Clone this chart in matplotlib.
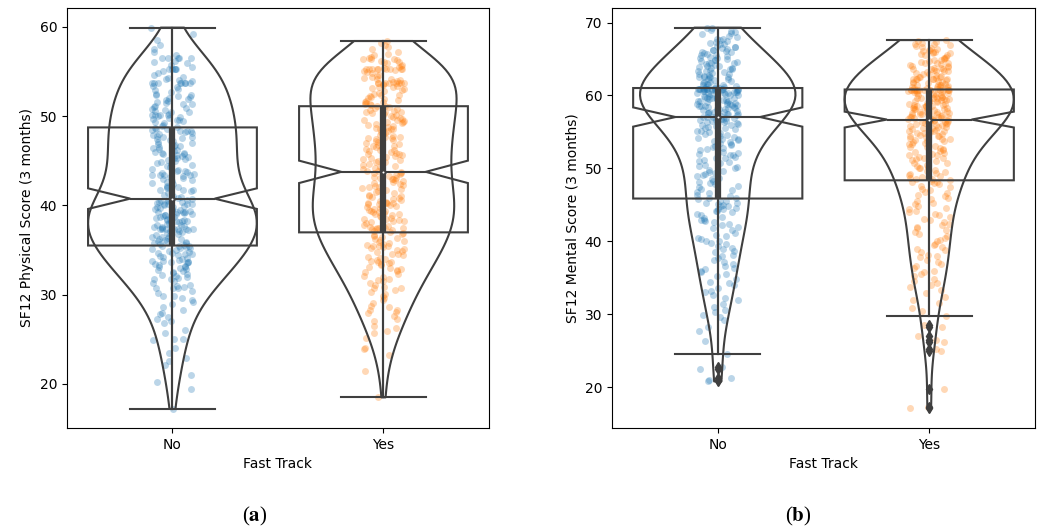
import matplotlib
matplotlib.use("Agg")
import matplotlib.pyplot as plt
import numpy as np
from matplotlib import mlab

# SF12 scores at 3 months
phys_no = [
    17.2, 19.4, 20.2, 21.0, 22.1, 22.6, 22.9, 23.5,
    24.0, 24.9, 25.0, 25.0, 25.7, 26.0, 26.8, 27.0, 27.3, 27.5, 27.8,
    28.0, 28.3, 28.6, 28.9, 29.2, 29.4, 29.6, 29.8, 29.9,
    30.2, 30.4, 30.7, 30.7, 30.7, 30.9, 31.0, 31.1, 31.3, 31.5, 31.7, 31.8, 31.9, 32.0,
    32.1, 32.2, 32.3, 32.4, 32.5, 32.6, 32.8, 32.9, 33.0, 33.1, 33.1, 33.2, 33.3, 33.4,
    33.5, 33.6, 33.6, 33.7, 33.8, 33.8, 33.9, 34.0,
    34.1, 34.2, 34.3, 34.4, 34.5, 34.6, 34.7, 34.7, 34.8, 34.9, 35.0, 35.1, 35.2, 35.2,
    35.3, 35.4, 35.5, 35.5, 35.6, 35.7, 35.8, 35.8, 35.9, 36.0, 36.0,
    36.1, 36.2, 36.2, 36.3, 36.4, 36.5, 36.6, 36.7, 36.8, 36.9, 37.0, 37.1, 37.1, 37.2,
    37.3, 37.4, 37.4, 37.4, 37.4, 37.4, 37.4, 37.5, 37.6, 37.6, 37.7, 37.8, 37.8, 37.9, 38.0,
    38.1, 38.1, 38.2, 38.3, 38.3, 38.4, 38.5, 38.5, 38.6, 38.7, 38.8, 38.9, 38.9, 39.0,
    39.0, 39.1, 39.2, 39.2, 39.3, 39.4, 39.5, 39.5, 39.6, 39.6, 39.7, 39.8, 39.8, 39.9,
    40.0, 38.4, 38.7, 39.3,
    40.1, 40.1, 40.2, 40.2, 40.3, 40.4, 40.4, 40.5, 40.5, 40.6, 40.6, 40.7, 40.8, 40.9,
    41.0, 41.2, 41.4, 41.6, 41.7, 41.7, 41.7, 41.9, 42.0,
    42.1, 42.2, 42.4, 42.5, 42.7, 42.8, 43.0, 43.1, 43.2, 43.4, 43.4, 43.4, 43.4, 43.5,
    43.6, 43.7, 43.8, 43.9, 44.0, 42.6, 43.3,
    44.1, 44.3, 44.4, 44.6, 44.7, 44.9, 45.0, 45.1, 45.2, 45.3, 45.4, 45.5, 45.6, 45.7,
    45.8, 45.9, 46.0, 44.5, 45.3, 45.9,
    46.1, 46.2, 46.4, 46.5, 46.6, 46.8, 46.9, 47.0, 47.1, 47.2, 47.4, 47.5, 47.6, 47.8,
    47.9, 48.0, 46.3, 46.7, 47.3, 47.7,
    48.1, 48.2, 48.3, 48.3, 48.3, 48.4, 48.5, 48.6, 48.7, 48.8, 48.9, 49.0, 49.2, 49.3,
    49.4, 49.5, 49.6, 49.7, 49.8, 49.9, 50.0,
    50.1, 50.1, 50.1, 50.1, 50.2, 50.4, 50.5, 50.7, 50.8, 50.9, 51.0, 51.1, 51.3, 51.4,
    51.5, 51.6, 51.7, 51.8, 51.9, 52.0, 50.6,
    52.1, 52.2, 52.4, 52.5, 52.7, 52.9, 53.0, 53.2, 53.4, 53.7, 53.7, 53.7, 53.7, 53.7,
    53.7, 53.7, 53.7, 53.9, 54.0, 52.3,
    54.2, 54.4, 54.6, 54.8, 55.0, 55.3, 55.3, 55.3, 55.3, 55.3, 55.5, 55.7, 55.9, 56.0, 54.3,
    56.2, 56.5, 56.5, 56.5, 56.5, 56.5, 56.8, 57.2, 57.5, 58.0,
    58.5, 59.2, 59.9,
]

phys_yes = [
    18.5, 21.5, 23.2, 23.9, 24.0, 25.2, 25.7, 25.9,
    26.3, 26.5, 27.0, 27.3, 27.6, 27.9,
    28.1, 28.3, 28.3, 28.6, 28.7, 29.1, 29.4, 29.6, 29.9,
    30.1, 30.3, 30.5, 30.7, 30.7, 30.9, 31.1, 31.3, 31.5, 31.6, 31.8, 32.0,
    32.1, 32.3, 32.5, 32.6, 32.8, 32.9, 33.0, 33.1, 33.3, 33.4, 33.5, 33.6, 33.7, 33.8,
    33.9, 34.0,
    34.1, 34.2, 34.4, 34.5, 34.6, 34.8, 34.9, 35.0, 35.1, 35.2, 35.3, 35.4, 35.5, 35.5,
    35.6, 35.7, 35.8, 35.9, 36.0,
    36.1, 36.2, 36.3, 36.5, 36.6, 36.7, 36.8, 36.9, 37.0, 37.1, 37.2, 37.3, 37.4, 37.5,
    37.5, 37.5, 37.5, 37.6, 37.7, 37.8, 38.0,
    38.1, 38.2, 38.3, 38.4, 38.5, 38.6, 38.7, 38.8, 38.9, 39.0, 39.1, 39.2, 39.3, 39.4,
    39.5, 39.6, 39.7, 39.8, 39.9, 40.0, 38.5, 39.0, 39.4, 39.8,
    40.1, 40.2, 40.3, 40.3, 40.3, 40.3, 40.4, 40.5, 40.6, 40.8, 40.9, 41.0, 41.1, 41.2,
    41.4, 41.5, 41.6, 41.7, 41.8, 41.9, 42.0, 40.7,
    42.1, 42.2, 42.3, 42.5, 42.6, 42.7, 42.8, 42.9, 43.0, 43.1, 43.2, 43.3, 43.4, 43.5,
    43.6, 43.7, 43.8, 43.9, 44.0, 42.4, 43.1, 43.6,
    44.1, 44.2, 44.4, 44.5, 44.6, 44.8, 44.9, 45.0, 45.1, 45.3, 45.4, 45.5, 45.6, 45.7,
    45.8, 45.9, 46.0, 44.3, 45.2,
    46.1, 46.2, 46.3, 46.5, 46.6, 46.7, 46.8, 47.0, 47.1, 47.2, 47.3, 47.4, 47.5, 47.6,
    47.7, 47.8, 47.9, 48.0, 46.4, 46.9, 47.5, 46.2,
    48.1, 48.2, 48.3, 48.4, 48.5, 48.6, 48.7, 48.8, 48.9, 49.0, 49.1, 49.2, 49.3, 49.4,
    49.5, 49.6, 49.7, 49.8, 49.9, 50.0, 48.6, 49.3,
    50.1, 50.2, 50.3, 50.4, 50.5, 50.6, 50.7, 50.8, 50.9, 51.0, 51.1, 51.2, 51.3, 51.4,
    51.5, 51.6, 51.7, 51.8, 51.9, 52.0, 50.5, 51.1, 51.6,
    52.1, 52.3, 52.4, 52.6, 52.8, 52.9, 53.1, 53.3, 53.5, 53.7, 53.7, 53.7, 53.7, 53.7,
    53.7, 53.7, 53.7, 53.8, 53.9, 54.0, 52.5, 53.0, 53.2, 53.6, 52.2, 53.4,
    54.1, 54.2, 54.4, 54.5, 54.6, 54.8, 55.0, 55.1, 55.3, 55.3, 55.3, 55.3, 55.3, 55.3,
    55.3, 55.3, 55.3, 55.5, 55.6, 55.7, 55.9, 56.0, 54.3, 54.9, 55.4,
    56.1, 56.2, 56.4, 56.4, 56.4, 56.5, 56.6, 56.8, 57.0, 57.2, 57.5, 57.7, 58.0, 58.2,
    58.4, 56.3,
]

mental_no = [
    20.8, 21.0, 21.3, 22.5, 22.8,
    24.6, 26.4, 27.7, 28.3, 29.2, 29.6, 29.9,
    30.3, 30.6, 31.0, 31.4, 32.0, 32.3, 32.6, 33.0, 33.2, 33.6, 34.0,
    34.3, 34.5, 34.9, 35.2, 35.5, 35.8, 36.0, 36.2, 36.4, 36.6, 36.9, 37.2, 37.5, 37.7, 38.0,
    38.2, 38.5, 38.7, 38.9, 39.1, 39.3, 39.6, 39.8, 40.0,
    40.1, 40.3, 40.5, 40.7, 40.9, 41.2, 41.5, 41.8, 42.0,
    42.2, 42.4, 42.6, 42.8, 43.0, 43.2, 43.4, 43.6, 43.8, 44.0, 42.9,
    44.1, 44.2, 44.4, 44.5, 44.6, 44.8, 44.9, 45.0, 45.1, 45.2, 45.3, 45.5, 45.6, 45.8,
    45.9, 46.0, 46.2, 46.4, 46.6, 46.8, 47.0, 47.2, 47.4, 47.6, 47.8, 48.0,
    48.2, 48.3, 48.5, 48.7, 48.9, 49.1, 49.3, 49.4, 49.5, 49.6, 49.8, 50.0,
    50.2, 50.3, 50.5, 50.7, 50.9, 51.0, 51.2, 51.4, 51.5, 51.6, 51.8, 51.9, 52.0,
    52.1, 52.3, 52.5, 52.7, 52.8, 53.0, 53.1, 53.2, 53.4, 53.5, 53.6, 53.7, 53.9, 54.0,
    54.1, 54.2, 54.3, 54.5, 54.6, 54.7, 54.8, 55.0, 55.1, 55.2, 55.4, 55.5, 55.6, 55.7,
    55.8, 55.9, 56.0,
    56.1, 56.2, 56.3, 56.4, 56.5, 56.5, 56.6, 56.7, 56.8, 56.8, 56.9, 56.9, 57.0,
    57.1, 57.1, 57.2, 57.3, 57.4, 57.4, 57.5, 57.6, 57.6, 57.7, 57.8, 57.8, 57.9, 58.0,
    58.1, 58.1, 58.2, 58.3, 58.3, 58.4, 58.5, 58.5, 58.6, 58.7, 58.7, 58.8, 58.8, 58.9,
    59.0, 58.4,
    59.1, 59.1, 59.2, 59.3, 59.3, 59.4, 59.5, 59.5, 59.6, 59.6, 59.7, 59.7, 59.8, 59.8,
    59.9, 60.0, 59.4, 59.9,
    60.1, 60.2, 60.2, 60.3, 60.4, 60.4, 60.5, 60.5, 60.6, 60.6, 60.7, 60.7, 60.8, 60.8,
    60.9, 60.9, 60.9, 60.9, 60.9, 60.9, 60.9, 60.9, 60.9, 60.9, 60.9, 60.9, 60.9, 60.9,
    61.0, 61.0, 60.3, 60.5, 60.7,
    61.1, 61.2, 61.3, 61.4, 61.5, 61.6, 61.7, 61.8, 61.9, 62.0, 61.3, 61.6,
    62.1, 62.2, 62.3, 62.5, 62.5, 62.5, 62.5, 62.6, 62.7, 62.8, 62.9, 63.0,
    63.1, 63.2, 63.3, 63.4, 63.5, 63.6, 63.7, 63.8, 63.8, 63.9, 64.0,
    64.1, 64.2, 64.3, 64.4, 64.5, 64.6, 64.7, 64.8, 64.9, 65.0, 64.5,
    65.1, 65.2, 65.3, 65.4, 65.5, 65.6, 65.7, 65.8, 65.9, 66.0,
    66.1, 66.2, 66.3, 66.4, 66.5, 66.6, 66.7, 66.8, 67.0,
    67.1, 67.2, 67.4, 67.5, 67.6, 67.7, 67.8, 68.0,
    68.2, 68.4, 68.6, 68.7, 68.8, 69.0, 69.2, 69.3,
]

mental_yes = [
    17.1, 17.3, 19.7, 25.0, 25.2, 26.2, 26.5, 27.0, 28.3, 28.6,
    29.8, 30.5, 30.9, 31.5, 32.0, 32.4, 32.9, 33.3, 33.7, 34.0,
    34.3, 34.6, 34.9, 35.2, 35.5, 35.8, 36.0, 36.3, 36.6, 36.9, 37.2, 37.5, 37.8, 38.0,
    38.2, 38.5, 38.8, 39.0, 39.2, 39.5, 39.7, 40.0, 40.2, 40.5, 40.8, 41.0, 41.3, 41.6,
    41.8, 42.0, 42.2, 42.4, 42.7, 42.9, 43.1, 43.4, 43.6, 43.8, 44.0,
    44.2, 44.4, 44.6, 44.9, 45.1, 45.3, 45.6, 45.8, 46.0,
    46.2, 46.4, 46.6, 46.8, 47.0, 47.2, 47.4, 47.6, 47.8, 48.0, 48.1, 48.2, 48.3,
    48.4, 48.5, 48.6, 48.7, 48.8, 48.9, 49.1, 49.2, 49.4, 49.5, 49.7, 49.8, 50.0,
    50.1, 50.2, 50.4, 50.5, 50.7, 50.8, 51.0, 51.1, 51.3, 51.4, 51.5, 51.6, 51.8, 51.9, 52.0,
    52.1, 52.2, 52.4, 52.5, 52.6, 52.8, 52.9, 53.0, 53.1, 53.3, 53.4, 53.5, 53.6, 53.7,
    53.8, 53.9, 54.0,
    54.1, 54.2, 54.3, 54.4, 54.5, 54.6, 54.7, 54.8, 54.9, 55.0, 55.1, 55.2, 55.3, 55.4,
    55.5, 55.6, 55.7, 55.8, 55.9, 56.0, 54.5, 55.2, 55.7,
    56.1, 56.1, 56.2, 56.2, 56.3, 56.3, 56.4, 56.4, 56.5, 56.5, 56.6, 56.6, 56.7,
    56.7, 56.8, 56.8, 56.9, 56.9, 57.0, 57.0, 57.1, 57.2, 57.2, 57.3, 57.3, 57.4, 57.5,
    57.5, 57.6, 57.6, 57.7, 57.8, 57.8, 57.9, 58.0, 57.1,
    58.1, 58.1, 58.2, 58.3, 58.3, 58.4, 58.5, 58.5, 58.6, 58.6, 58.7, 58.7, 58.8, 58.8,
    58.9, 59.0, 58.4, 58.2,
    59.1, 59.2, 59.2, 59.3, 59.4, 59.4, 59.5, 59.6, 59.6, 59.7, 59.8, 59.8, 59.9, 60.0,
    59.3, 59.5, 59.7,
    60.1, 60.2, 60.2, 60.3, 60.4, 60.5, 60.5, 60.6, 60.6, 60.7, 60.7,
    60.8, 60.8, 60.8, 60.8, 60.8, 60.8, 60.8, 60.8, 60.8, 60.8, 60.8, 60.8,
    60.9, 61.0, 61.0, 61.1, 61.2, 61.3, 61.4, 61.5, 61.5, 61.6, 61.7, 61.8, 61.9, 62.0,
    61.2, 61.4, 61.7, 61.1,
    62.1, 62.2, 62.3, 62.3, 62.3, 62.3, 62.4, 62.5, 62.6, 62.7, 62.8, 62.9, 63.0, 62.5, 62.2,
    63.1, 63.2, 63.3, 63.4, 63.5, 63.6, 63.7, 63.8, 63.9, 64.0, 63.3, 63.6, 63.8,
    64.1, 64.2, 64.3, 64.4, 64.5, 64.6, 64.7, 64.8, 64.9, 65.0, 64.4,
    65.1, 65.2, 65.3, 65.5, 65.6, 65.7, 65.8, 65.8, 65.9, 66.0,
    66.1, 66.2, 66.3, 66.4, 66.5, 66.6, 66.8, 66.9, 67.0,
    67.1, 67.2, 67.3, 67.5, 67.6,
]

groups = ["No", "Yes"]
colors = ["#1f77b4", "#ff7f0e"]
GRAY = "#3f3f3f"
LW = 1.5

plt.rcParams["mathtext.fontset"] = "stix"


def area_widths(datasets, width=0.8):
    # violins scaled by area, like seaborn's scale="area"
    peaks = []
    for d in datasets:
        d = np.asarray(d)
        kde = mlab.GaussianKDE(d, "scott")
        peaks.append(kde.evaluate(np.linspace(d.min(), d.max(), 100)).max())
    peaks = np.array(peaks)
    return width * peaks / peaks.max()


def inner_box(ax, pos, d):
    d = np.asarray(d)
    q1, q2, q3 = np.percentile(d, [25, 50, 75])
    lim = 1.5 * (q3 - q1)
    lo = d[d >= q1 - lim].min()
    hi = d[d <= q3 + lim].max()
    ax.plot([pos, pos], [lo, hi], color=GRAY, lw=LW, zorder=2)
    ax.plot([pos, pos], [q1, q3], color=GRAY, lw=LW * 3, solid_capstyle="butt", zorder=2)
    ax.scatter(pos, q2, s=9, color="white", edgecolor=GRAY, linewidth=LW, zorder=3)


def draw_panel(ax, datasets, ylabel, ylim, yticks, seed):
    rng = np.random.default_rng(seed)
    positions = np.arange(len(datasets))

    for pos, d, c in zip(positions, datasets, colors):
        jitter = rng.uniform(-0.1, 0.1, len(d))
        ax.scatter(pos + jitter, d, s=25, color=c, alpha=0.3, linewidth=0, zorder=1)

    parts = ax.violinplot(datasets, positions=positions, widths=area_widths(datasets),
                          showextrema=False, showmeans=False, showmedians=False)
    for body in parts["bodies"]:
        body.set_facecolor("none")
        body.set_edgecolor(GRAY)
        body.set_linewidth(LW)
        body.set_alpha(1)
        body.set_zorder(2)

    for pos, d in zip(positions, datasets):
        inner_box(ax, pos, d)

    ax.boxplot(datasets, positions=positions, widths=0.8, notch=True, patch_artist=True,
               boxprops=dict(facecolor="none", edgecolor=GRAY, linewidth=LW),
               whiskerprops=dict(color=GRAY, linewidth=LW),
               capprops=dict(color=GRAY, linewidth=LW),
               medianprops=dict(color=GRAY, linewidth=LW),
               flierprops=dict(marker="d", markerfacecolor=GRAY, markeredgecolor=GRAY,
                               markersize=5))

    ax.set_xlim(-0.5, 1.5)
    ax.set_ylim(*ylim)
    ax.set_xticks(positions)
    ax.set_xticklabels(groups)
    ax.set_yticks(yticks)
    ax.set_xlabel("Fast Track")
    ax.set_ylabel(ylabel)


fig = plt.figure(figsize=(10.38, 5.31), dpi=100)
ax_a = fig.add_axes([0.0645, 0.194, 0.4066, 0.791])
ax_b = fig.add_axes([0.5896, 0.194, 0.4075, 0.791])

draw_panel(ax_a, [phys_no, phys_yes], "SF12 Physical Score (3 months)",
           (15.07, 62.1), [20, 30, 40, 50, 60], 1)
draw_panel(ax_b, [mental_no, mental_yes], "SF12 Mental Score (3 months)",
           (14.42, 72.0), [20, 30, 40, 50, 60, 70], 2)

fig.text(0.2457, 0.005, r"($\mathbf{a}$)", ha="center", va="bottom",
         family="Liberation Serif", fontsize=15)
fig.text(0.7688, 0.005, r"($\mathbf{b}$)", ha="center", va="bottom",
         family="Liberation Serif", fontsize=15)

fig.savefig("out.png", dpi=100)
